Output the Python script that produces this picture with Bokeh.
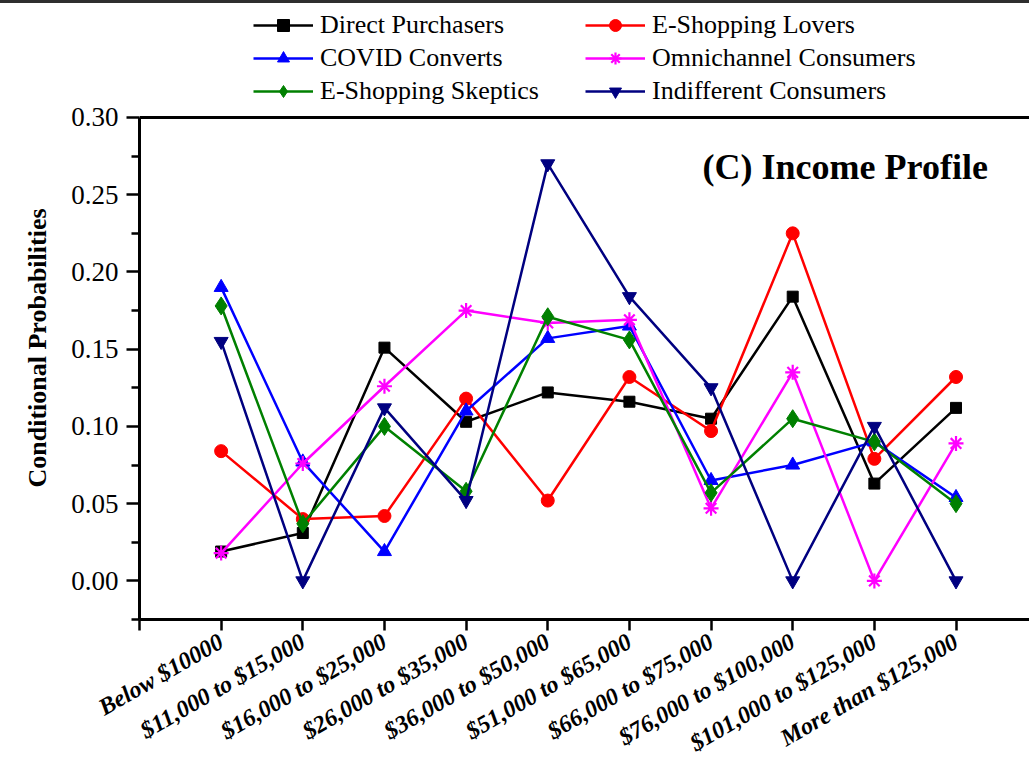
import math
from bokeh.plotting import figure
from bokeh.layouts import column
from bokeh.models import (Range1d, FixedTicker, PrintfTickFormatter, Legend, LegendItem,
                          Label, Title, Div, Span)
from bokeh.embed import file_html
from bokeh.resources import INLINE

# Income brackets along the x axis
categories = ["Below $10000", "$11,000 to $15,000", "$16,000 to $25,000",
              "$26,000 to $35,000", "$36,000 to $50,000", "$51,000 to $65,000",
              "$66,000 to $75,000", "$76,000 to $100,000", "$101,000 to $125,000",
              "More than $125,000"]

# Conditional probabilities per consumer segment
direct_purchasers = [0.019, 0.031, 0.151, 0.103, 0.122, 0.116, 0.105, 0.184, 0.063, 0.112]
eshopping_lovers = [0.084, 0.040, 0.042, 0.118, 0.052, 0.132, 0.097, 0.225, 0.079, 0.132]
covid_converts = [0.190, 0.077, 0.019, 0.110, 0.157, 0.165, 0.065, 0.075, 0.090, 0.054]
omnichannel = [0.018, 0.076, 0.126, 0.175, 0.167, 0.169, 0.047, 0.135, 0.000, 0.089]
eshopping_skeptics = [0.178, 0.037, 0.100, 0.058, 0.171, 0.156, 0.057, 0.105, 0.090, 0.050]
indifferent = [0.155, 0.000, 0.112, 0.052, 0.270, 0.184, 0.125, 0.000, 0.100, 0.000]

series_names = ["Direct Purchasers", "E-Shopping Lovers", "COVID Converts",
                "Omnichannel Consumers", "E-Shopping Skeptics", "Indifferent Consumers"]

y_major = [0.0, 0.05, 0.10, 0.15, 0.20, 0.25, 0.30]
y_minor = [-0.025, 0.025, 0.075, 0.125, 0.175, 0.225, 0.275]
y_bottom, y_top = -0.025, 0.30

SERIF = "Liberation Serif"

# The frame reaches the top of the canvas so the legend can sit above the plotted box
p = figure(width=1029, height=768, output_backend="svg", toolbar_location=None,
           x_range=Range1d(0, 10.9), y_range=Range1d(y_bottom, 0.3738),
           min_border_left=139, min_border_right=0, min_border_top=0,
           min_border_bottom=152, outline_line_color=None,
           background_fill_color="white", border_fill_color="white", margin=0)
p.grid.visible = False

xs = list(range(1, len(categories) + 1))

styles = [
    (direct_purchasers, "#000000", "square", 11),
    (eshopping_lovers, "#ff0000", "circle", 13),
    (covid_converts, "#0000ff", "triangle", 14),
    (omnichannel, "#ff00ff", "asterisk", 15),
    (eshopping_skeptics, "#008000", "diamond", 18),
    (indifferent, "#000080", "inverted_triangle", 14),
]

renderers = []
for (vals, color, marker, size) in styles:
    lr = p.line(xs, vals, line_color=color, line_width=2.5)
    if marker == "asterisk":
        sr = p.scatter(xs, vals, marker=marker, size=size, line_color=color, line_width=2.2)
    else:
        sr = p.scatter(xs, vals, marker=marker, size=size, fill_color=color, line_color=color)
    renderers.append([lr, sr])

# Bottom axis with slanted bracket labels
xa = p.xaxis[0]
xa.ticker = FixedTicker(ticks=list(range(0, 12)))
xa.major_label_overrides = {i: (categories[i - 1] if 1 <= i <= 10 else "") for i in range(0, 12)}
xa.major_label_orientation = math.radians(30)
xa.major_label_text_font = SERIF
xa.major_label_text_font_style = "bold italic"
xa.major_label_text_font_size = "24px"
xa.major_label_text_color = "black"
xa.major_tick_out = 11
xa.major_tick_in = 0
xa.minor_tick_out = 0
xa.axis_line_width = 3
xa.major_tick_line_width = 2.5
xa.major_label_standoff = 9

# Left axis, drawn only over the plotted box
ya = p.yaxis[0]
ya.bounds = (y_bottom, y_top)
ya.ticker = FixedTicker(ticks=y_major, minor_ticks=y_minor)
ya.formatter = PrintfTickFormatter(format="%.2f")
ya.major_label_text_font = SERIF
ya.major_label_text_font_size = "27px"
ya.major_label_text_color = "black"
ya.major_tick_out = 13
ya.major_tick_in = 0
ya.minor_tick_out = 8
ya.minor_tick_in = 0
ya.axis_line_width = 3
ya.major_tick_line_width = 2.5
ya.minor_tick_line_width = 2.5
ya.major_label_standoff = 8

# Top edge of the plotted box
p.add_layout(Span(location=y_top, dimension="width", line_color="black", line_width=3))

# Two legend columns above the box
def make_legend(idx, x):
    items = [LegendItem(label=series_names[i], renderers=renderers[i]) for i in idx]
    return Legend(items=items, location=(x, 513), orientation="vertical",
                  glyph_width=60, glyph_height=30, label_height=30, spacing=3,
                  label_standoff=7, padding=0, margin=0, border_line_color=None,
                  background_fill_alpha=0, label_text_font=SERIF,
                  label_text_font_size="26px", label_text_color="black")

p.add_layout(make_legend([0, 2, 4], 114))
p.add_layout(make_legend([1, 3, 5], 446))

# Vertical axis title
p.add_layout(Title(text="Conditional Probabilities", align="left", offset=132,
                   text_font=SERIF, text_font_style="bold", text_font_size="26px",
                   text_color="black", standoff=34), "left")

# Panel title
p.add_layout(Label(x=10.39, y=0.268, text="(C) Income Profile", text_font=SERIF,
                   text_font_style="bold", text_font_size="36px", text_align="right",
                   text_baseline="alphabetic", text_color="black"))

# Dark rule along the top edge
rule = Div(width=1029, height=3, margin=0, styles={"background-color": "#2e2e2e"})

page = column(rule, p, spacing=0, margin=0)
open("out.html", "w").write(file_html(page, INLINE))
